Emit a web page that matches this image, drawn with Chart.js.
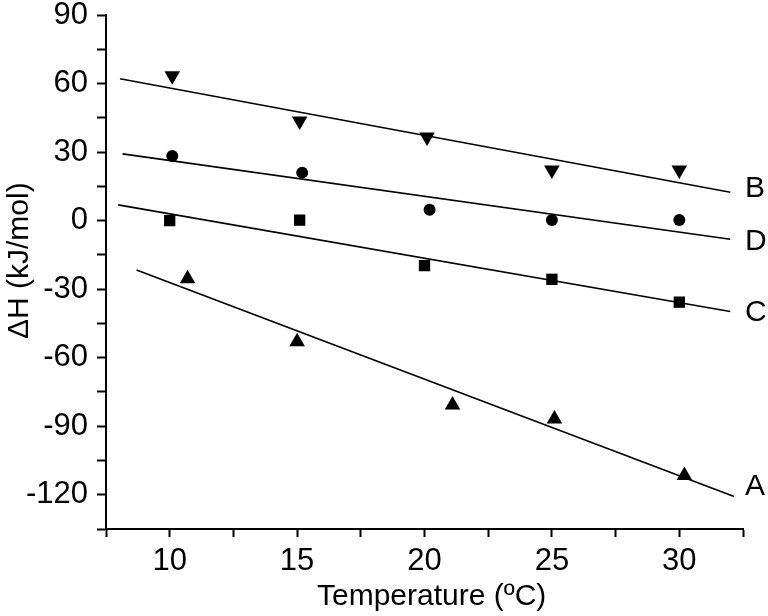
<!DOCTYPE html>
<html>
<head>
<meta charset="utf-8">
<script src="https://cdn.jsdelivr.net/npm/chart.js@4.4.1/dist/chart.umd.min.js"></script>
<style>
  html, body { margin: 0; padding: 0; background: #fff; }
  #wrap { width: 768px; height: 616px; }
</style>
</head>
<body>
<div id="wrap"><canvas id="chart" width="768" height="616"></canvas></div>
<script>
// measured points (temperature in ºC, ΔH in kJ/mol)
const tempA = [10.7, 15.0, 21.1, 25.1, 30.2];
const dhA = [-25.5, -53.0, -80.7, -86.8, -111.6];
const tempB = [10.1, 15.1, 20.1, 25.0, 30.0];
const dhB = [63.4, 43.6, 36.6, 22.2, 22.2];
const tempC = [10.0, 15.1, 20.0, 25.0, 30.0];
const dhC = [0.0, 0.2, -19.7, -25.7, -35.7];
const tempD = [10.1, 15.2, 20.2, 25.0, 30.0];
const dhD = [28.3, 21.0, 4.7, 0.3, 0.3];

// fitted lines, start and end
const fitA = { x: [8.7, 32.15], y: [-21.6, -120.8] };
const fitB = { x: [8.05, 32.0], y: [62.1, 12.4] };
const fitC = { x: [7.98, 32.0], y: [6.9, -39.8] };
const fitD = { x: [8.15, 32.0], y: [29.2, -8.2] };

// curve names at the right end
const curveNames = ['B', 'D', 'C', 'A'];
const curveNameX = 32.5;
const curveNameY = [14.0, -9.2, -40.4, -116.4];

const xTicks = { min: 7.5, max: 32.5, step: 2.5, labelEvery: 5 };
const yTicks = { min: -135, max: 90, step: 15, labelEvery: 30 };

const FONT = "'Liberation Sans', Arial, sans-serif";

const toPts = (xs, ys) => xs.map((x, i) => ({ x: x, y: ys[i] }));

function markerSet(xs, ys, style, radius, rotation) {
  return {
    data: toPts(xs, ys),
    showLine: false,
    pointStyle: style,
    pointRadius: radius,
    pointHoverRadius: radius,
    pointRotation: rotation || 0,
    pointBackgroundColor: '#000',
    pointBorderWidth: 0
  };
}

function fitSet(fit) {
  return {
    data: toPts(fit.x, fit.y),
    showLine: true,
    borderColor: '#000',
    borderWidth: 1.6,
    pointRadius: 0,
    pointHoverRadius: 0
  };
}

const curveLabels = {
  id: 'curveLabels',
  afterDatasetsDraw(chart) {
    const { ctx, scales } = chart;
    ctx.save();
    ctx.fillStyle = '#000';
    ctx.font = '30px ' + FONT;
    ctx.textAlign = 'left';
    ctx.textBaseline = 'middle';
    curveNames.forEach((name, i) => {
      const px = scales.x.getPixelForValue(curveNameX) + 2;
      const py = scales.y.getPixelForValue(curveNameY[i]);
      ctx.fillText(name, px, py);
    });
    ctx.restore();
  }
};

function noPad(scale) {
  scale.paddingLeft = 0;
  scale.paddingRight = 0;
  scale.paddingTop = 0;
  scale.paddingBottom = 0;
}

new Chart(document.getElementById('chart'), {
  type: 'scatter',
  data: {
    datasets: [
      fitSet(fitB), fitSet(fitD), fitSet(fitC), fitSet(fitA),
      markerSet(tempB, dhB, 'triangle', 9, 180),
      markerSet(tempD, dhD, 'circle', 6),
      markerSet(tempC, dhC, 'rect', 8),
      markerSet(tempA, dhA, 'triangle', 9)
    ]
  },
  options: {
    responsive: false,
    animation: false,
    events: [],
    layout: { padding: { left: 0, top: 15, right: 25, bottom: 0 } },
    plugins: {
      legend: { display: false },
      tooltip: { enabled: false }
    },
    scales: {
      x: {
        type: 'linear',
        min: xTicks.min,
        max: xTicks.max,
        afterFit(scale) { scale.height = 87; noPad(scale); },
        border: { display: true, color: '#000', width: 2 },
        grid: {
          drawOnChartArea: false,
          drawTicks: true,
          tickLength: 8,
          tickWidth: 2,
          tickColor: '#000'
        },
        ticks: {
          stepSize: xTicks.step,
          autoSkip: false,
          maxRotation: 0,
          padding: 6,
          color: '#000',
          font: { family: FONT, size: 31 },
          callback: (v) => (Math.abs(v % xTicks.labelEvery) < 1e-9 ? String(v) : '')
        },
        title: {
          display: true,
          // leading spaces nudge the title right like the original
          text: ' \u2009Temperature (ºC)',
          color: '#000',
          font: { family: FONT, size: 30 },
          padding: { top: 0, bottom: 1 }
        }
      },
      y: {
        type: 'linear',
        min: yTicks.min,
        max: yTicks.max,
        afterFit(scale) { scale.width = 106; noPad(scale); },
        border: { display: true, color: '#000', width: 2 },
        grid: {
          drawOnChartArea: false,
          drawTicks: true,
          tickLength: 9,
          tickWidth: 2,
          tickColor: '#000'
        },
        ticks: {
          stepSize: yTicks.step,
          autoSkip: false,
          padding: 9,
          color: '#000',
          font: { family: FONT, size: 31 },
          callback: (v) => (Math.abs(v % yTicks.labelEvery) < 1e-9 ? String(v) : '')
        },
        title: {
          display: true,
          text: '  \u2009ΔH (kJ/mol)',
          color: '#000',
          font: { family: FONT, size: 30 },
          padding: { top: 2, bottom: 0 }
        }
      }
    }
  },
  plugins: [curveLabels]
});
</script>
</body>
</html>
